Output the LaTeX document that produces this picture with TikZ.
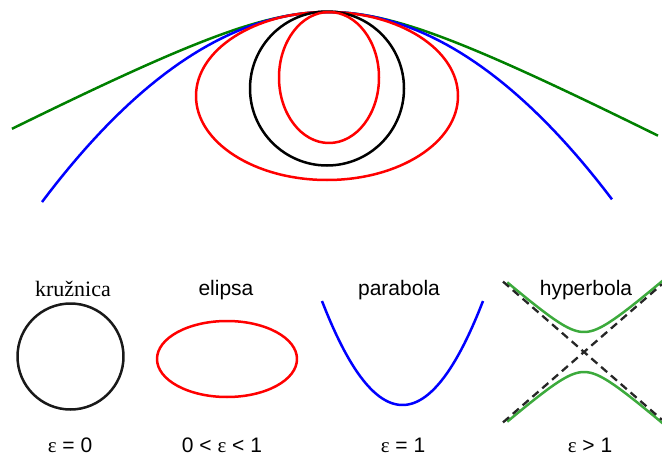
\documentclass[tikz,border=0pt]{standalone}
\usepackage{fontspec}
\setmainfont{Liberation Sans}
\newfontfamily\timesfont{Liberation Serif}
\definecolor{topgreen}{RGB}{0,128,0}
\definecolor{lowgreen}{RGB}{60,170,60}

\tikzset{%
  conic/.style={
    line width=2.5pt,
    line join=round
  },
  conic label/.style={
    anchor=base,
    inner sep=0pt,
    font=\fontsize{21}{24}\selectfont
  },
  asymptote/.style={
    draw=black!85,
    line width=2.3pt,
    dash pattern=on 8pt off 5pt
  },
}

\begin{document}
\begin{tikzpicture}[x=1pt,y=-1pt]
  \useasboundingbox (0,0) rectangle (662,455);
  % upper part: all conics touching at the vertex
  \draw [conic, draw=topgreen] plot[domain=-3.16:3.30, samples=80] ({328+100*\x},{12+52*(sqrt(\x*\x+1.21)-1.1)});
  \draw [conic, draw=blue] plot[domain=-286:284, samples=80] ({328+\x},{12+190*(\x/286)^2});
  \draw [conic, draw=red] (327,96) ellipse [x radius=131pt, y radius=84pt];
  \draw [conic, draw=black] (327,88.5) circle [radius=77pt];
  \draw [conic, draw=red] (329,77.5) ellipse [x radius=50pt, y radius=65.5pt];
  \node [conic label, font=\fontsize{22}{25}\selectfont\timesfont] (KRUZNICA) at (73,296) {kružnica};
  \node [conic label] (ELIPSA) at (226,295) {elipsa};
  \node [conic label] (PARABOLA) at (399,295) {parabola};
  \node [conic label] (HYPERBOLA) at (586,295) {hyperbola};
  \draw [conic, draw=black!90] (70.5,356.5) circle [radius=53pt];
  \draw [conic, draw=red] (227,359) ellipse [x radius=70pt, y radius=38pt];
  \draw [conic, draw=blue] plot[domain=-80.5:80.5, samples=60] ({402.5+\x},{405-104*(\x/80.5)^2});
  \coordinate (a-1) at (503,281.6);
  \coordinate (a-2) at (662,419.8);
  \coordinate (a-3) at (503,422.4);
  \coordinate (a-4) at (662,284.2);
  \begin{scope}
    \clip (500,270) rectangle (662,430);
    \draw [conic, draw=lowgreen] plot[domain=-1.92:1.95, samples=60] ({584+23*sinh(\x)},{352-20*cosh(\x)});
    \draw [conic, draw=lowgreen] plot[domain=-1.92:1.95, samples=60] ({584+23*sinh(\x)},{352+20*cosh(\x)});
    \draw [asymptote] (a-1) -- (a-2);
    \draw [asymptote] (a-3) -- (a-4);
  \end{scope}
  \node [conic label] (E0) at (70,452) {{\timesfont ε} = 0};
  \node [conic label] (E01) at (222,452) {0 < {\timesfont ε} < 1};
  \node [conic label] (E1) at (403,452) {{\timesfont ε} = 1};
  \node [conic label] (E2) at (590,452) {{\timesfont ε} > 1};
\end{tikzpicture}
\end{document}
